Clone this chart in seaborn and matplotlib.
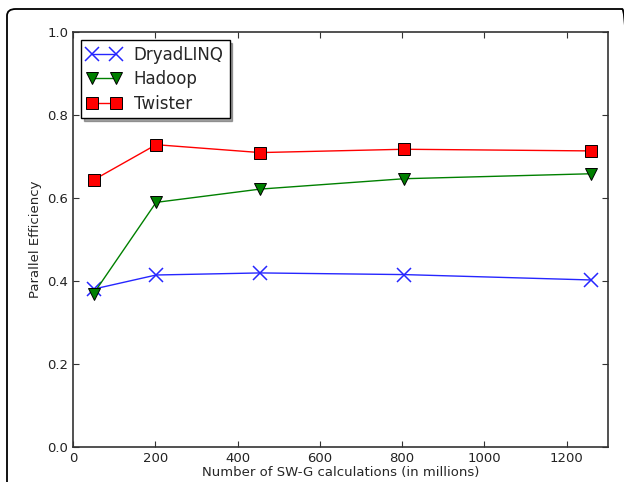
import matplotlib
matplotlib.use("Agg")
import matplotlib.pyplot as plt
from matplotlib.patches import FancyBboxPatch
import seaborn as sns
import pandas as pd

# number of SW-G calculations (millions)
calcs = [50, 202, 455, 805, 1260]
dryad = [0.380, 0.414, 0.419, 0.415, 0.402]
hadoop = [0.369, 0.589, 0.621, 0.646, 0.658]
twister = [0.643, 0.728, 0.709, 0.717, 0.713]

sns.set_style("ticks", {"xtick.direction": "in", "ytick.direction": "in"})
plt.rcParams["font.family"] = ["DejaVu Sans"]

fig = plt.figure(figsize=(6.24, 4.82), dpi=100)
ax = fig.add_axes([0.117, 0.073, 0.857, 0.861])

series = [
    ("DryadLINQ", dryad, (0.15, 0.15, 1), "x", 9.5, (0.15, 0.15, 1)),
    ("Hadoop", hadoop, (0, 0.5, 0), "v", 8.5, "black"),
    ("Twister", twister, (1, 0, 0), "s", 8.5, "black"),
]
for name, vals, col, mk, ms, mec in series:
    df = pd.DataFrame({"x": calcs, "y": vals})
    sns.lineplot(data=df, x="x", y="y", ax=ax, color=col, marker=mk,
                 markersize=ms, markeredgecolor=mec,
                 markeredgewidth=1.1 if mk == "x" else 0.7,
                 linewidth=1, label=name)
for ln in ax.get_lines():
    ln.set_markerfacecolor(ln.get_color())

ax.set_xlim(0, 1300)
ax.set_ylim(0, 1.0)
ax.set_xticks([0, 200, 400, 600, 800, 1000, 1200])
ax.set_yticks([0.0, 0.2, 0.4, 0.6, 0.8, 1.0])
ax.tick_params(top=True, right=True, labelsize=9.5, length=4, colors="#333333",
               labelcolor="#222222")
for s in ax.spines.values():
    s.set_color("#333333")
    s.set_linewidth(1.2)
ax.set_xlabel("Number of SW-G calculations (in millions)", fontsize=9.5, labelpad=1)
ax.set_ylabel("Parallel Efficiency", fontsize=9.5)

leg = ax.legend(loc="upper left", fontsize=12, numpoints=2, shadow=True,
                fancybox=False, framealpha=1, edgecolor="black",
                handlelength=2.0, borderaxespad=0.5, labelspacing=0.38,
                borderpad=0.35)
leg.get_frame().set_linewidth(1.0)

# rounded outer frame (cropped screenshot border)
frame = FancyBboxPatch((7 / 624, -0.2), 1.0, 0.2 + 1 - 9 / 482,
                       boxstyle="round,pad=0,rounding_size=0.014",
                       transform=fig.transFigure, fill=False,
                       edgecolor="black", linewidth=1.3, clip_on=False)
fig.patches.append(frame)

fig.savefig("out.png", dpi=100)
